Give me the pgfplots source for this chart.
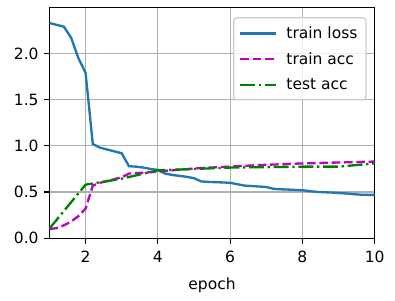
\documentclass[border=0pt]{standalone}
\usepackage{fontspec}
\setmainfont{DejaVu Sans}
\usepackage{pgfplots}
\pgfplotsset{compat=1.18}
\definecolor{cblue}{HTML}{1F77B4}
\definecolor{cmag}{rgb}{0.75,0,0.75}
\definecolor{cgreen}{rgb}{0,0.5,0}
\definecolor{gridc}{HTML}{B0B0B0}
\definecolor{legc}{HTML}{CCCCCC}
\begin{document}
\fontsize{10}{12}\selectfont
\begin{tikzpicture}
\begin{axis}[
  scale only axis, width=209.8pt, height=149pt,
  xmin=1, xmax=10, ymin=0, ymax=2.5,
  xtick={2,4,6,8,10}, ytick={0,0.5,1.0,1.5,2.0},
  yticklabel style={/pgf/number format/.cd, fixed, fixed zerofill, precision=1},
  xticklabel style={yshift=-1.5pt},
  /pgf/number format/assume math mode=true,
  grid=major, major grid style={color=gridc, line width=0.8pt},
  axis line style={line width=0.8pt},
  tick style={black, line width=0.8pt},
  tick align=outside, major tick length=3.5pt, tick pos=left,
  xlabel={epoch},
  xlabel style={yshift=-2.5pt},
  legend cell align=left,
  legend style={at={(0.975,0.957)}, anchor=north east, draw=legc, rounded corners=2pt,
    fill=white, fill opacity=0.8, text opacity=1, line width=0.8pt,
    row sep=3.6pt, column sep=4pt, inner xsep=3.5pt, inner ysep=3.5pt,
    font=\fontsize{10}{12}\selectfont},
  legend image code/.code={\draw[#1] (0pt,0pt) -- (23pt,0pt);},
]
\addplot[cblue, line width=1.5pt] coordinates {
(1.0,2.33) (1.2,2.31) (1.4,2.29) (1.6,2.17) (1.8,1.95) (2.0,1.79)
(2.2,1.02) (2.4,0.98) (2.6,0.96) (2.8,0.94) (3.0,0.92)
(3.2,0.78) (3.4,0.775) (3.6,0.765) (3.8,0.75) (4.0,0.74)
(4.2,0.70) (4.4,0.685) (4.6,0.675) (4.8,0.665) (5.0,0.650)
(5.2,0.615) (5.4,0.610) (5.6,0.607) (5.8,0.604) (6.0,0.600)
(6.2,0.585) (6.4,0.570) (6.6,0.565) (6.8,0.560) (7.0,0.555)
(7.2,0.535) (7.4,0.530) (7.6,0.527) (7.8,0.523) (8.0,0.520)
(8.2,0.510) (8.4,0.502) (8.6,0.498) (8.8,0.495) (9.0,0.490)
(9.2,0.485) (9.4,0.478) (9.6,0.472) (9.8,0.470) (10.0,0.470)
};
\addlegendentry{train loss}
\addplot[cmag, line width=1.5pt, dash pattern=on 5.55pt off 2.4pt] coordinates {
(1.0,0.10) (1.2,0.11) (1.4,0.14) (1.6,0.18) (1.8,0.24) (2.0,0.32)
(2.2,0.57) (2.4,0.60) (2.6,0.62) (2.8,0.64) (3.0,0.66)
(3.2,0.70) (3.4,0.705) (3.6,0.71) (3.8,0.715) (4.0,0.72)
(4.2,0.73) (4.4,0.735) (4.6,0.742) (4.8,0.748) (5.0,0.755)
(5.2,0.760) (5.4,0.764) (5.6,0.768) (5.8,0.772) (6.0,0.775)
(6.2,0.780) (6.4,0.784) (6.6,0.788) (6.8,0.792) (7.0,0.795)
(7.2,0.798) (7.4,0.801) (7.6,0.804) (7.8,0.807) (8.0,0.810)
(8.2,0.812) (8.4,0.814) (8.6,0.816) (8.8,0.818) (9.0,0.820)
(9.2,0.822) (9.4,0.824) (9.6,0.826) (9.8,0.828) (10.0,0.830)
};
\addlegendentry{train acc}
\addplot[cgreen, line width=1.5pt, dash pattern=on 9.6pt off 2.4pt on 1.5pt off 2.4pt] coordinates {
(1,0.105) (2,0.58) (3,0.645) (4,0.735) (5,0.75) (6,0.765) (7,0.77) (8,0.775) (9,0.775) (10,0.81)
};
\addlegendentry{test acc}
\end{axis}
\pgfresetboundingbox
\useasboundingbox ([xshift=-31.9pt,yshift=-40.4pt]current axis.south west) rectangle ([xshift=13.1pt,yshift=4.7pt]current axis.north east);
\end{tikzpicture}
\end{document}
